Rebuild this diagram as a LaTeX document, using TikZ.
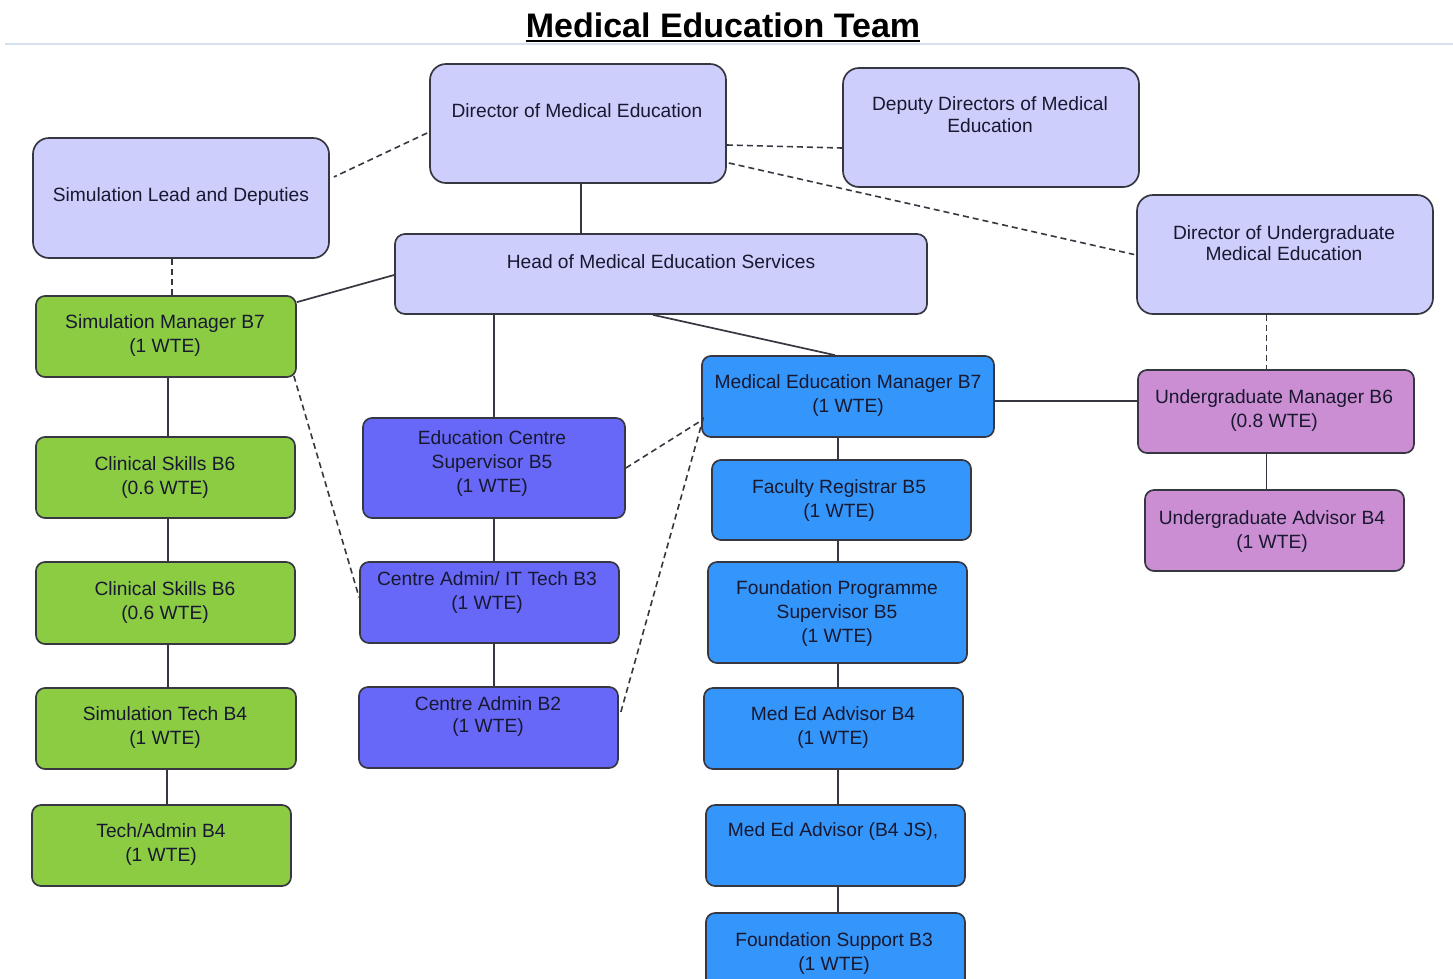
\documentclass[tikz,border=0pt]{standalone}
\usepackage{fontspec}
\setmainfont{Liberation Sans}
\usetikzlibrary{calc}
\definecolor{lav}{RGB}{206,206,252}
\definecolor{grn}{RGB}{140,204,66}
\definecolor{ind}{RGB}{104,104,248}
\definecolor{blu}{RGB}{52,150,250}
\definecolor{pnk}{RGB}{204,142,210}
\definecolor{edge}{RGB}{55,55,65}
\definecolor{txt}{RGB}{24,24,48}
\definecolor{rule}{RGB}{214,224,234}
\begin{document}
\begin{tikzpicture}[x=1pt,y=-1pt,
  bigbox/.style={draw=edge,line width=1.7pt,rounded corners=16pt,inner sep=0pt,fill=lav},
  smallbox/.style={draw=edge,line width=1.7pt,rounded corners=9pt,inner sep=0pt},
  lbl/.style={text=txt,font=\fontsize{19.2}{24}\selectfont,align=center,inner sep=0pt},
  solidc/.style={draw=edge,line width=1.7pt},
  dashc/.style={draw=edge,line width=1.6pt,dash pattern=on 6pt off 4pt}]
\useasboundingbox (0,0) rectangle (1453,978);
\fill[white] (0,0) rectangle (1453,978);
% title
\node[font=\fontsize{34}{40}\selectfont\bfseries,inner sep=0pt,anchor=base] (title) at (723,37) {Medical Education Team};
\draw[line width=2pt] ($(title.base west)+(0,4)$) -- ($(title.base east)+(0,4)$);
\draw[rule,line width=1.2pt] (5,44) -- (1453,44);
% boxes
\node[bigbox,minimum width=296pt,minimum height=119pt] (dir) at (578,123.5) {};
\node[lbl] (tdir) at (577,111) {Director of Medical Education};
\node[bigbox,minimum width=296pt,minimum height=119pt] (dep) at (991,127.5) {};
\node[lbl,font=\fontsize{19.2}{21.5}\selectfont] (tdep) at (990,114.5) {Deputy Directors of Medical\\Education};
\node[bigbox,minimum width=296pt,minimum height=120pt] (simlead) at (181,198) {};
\node[lbl] (tsimlead) at (181,197) {Simulation Lead and Deputies};
\node[bigbox,rounded corners=10pt,minimum width=532pt,minimum height=80pt] (head) at (661,274) {};
\node[lbl] (thead) at (661,262) {Head of Medical Education Services};
\node[bigbox,minimum width=296pt,minimum height=119pt] (dirug) at (1285,254.5) {};
\node[lbl,font=\fontsize{19.2}{20.5}\selectfont] (tdirug) at (1284,243) {Director of Undergraduate\\Medical Education};
% green
\node[smallbox,fill=grn,minimum width=260pt,minimum height=81pt] (simmgr) at (166,336.5) {};
\node[lbl] (tsimmgr) at (165,336) {Simulation Manager B7\\(1 WTE)};
\node[smallbox,fill=grn,minimum width=259pt,minimum height=81pt] (cs1) at (165.5,477.5) {};
\node[lbl] (tcs1) at (165,477.5) {Clinical Skills B6\\(0.6 WTE)};
\node[smallbox,fill=grn,minimum width=259pt,minimum height=82pt] (cs2) at (165.5,603) {};
\node[lbl] (tcs2) at (165,602.5) {Clinical Skills B6\\(0.6 WTE)};
\node[smallbox,fill=grn,minimum width=260pt,minimum height=81pt] (simtech) at (166,728.5) {};
\node[lbl] (tsimtech) at (165,728) {Simulation Tech B4\\(1 WTE)};
\node[smallbox,fill=grn,minimum width=259pt,minimum height=81pt] (techadm) at (161.5,845.5) {};
\node[lbl] (ttechadm) at (161,844.5) {Tech/Admin B4\\(1 WTE)};
% indigo
\node[smallbox,fill=ind,minimum width=262pt,minimum height=100pt] (ecs) at (494,468) {};
\node[lbl] (tecs) at (492,463.5) {Education Centre\\Supervisor B5\\(1 WTE)};
\node[smallbox,fill=ind,minimum width=259pt,minimum height=81pt] (cait) at (489.5,602.5) {};
\node[lbl] (tcait) at (487,592.5) {Centre Admin/ IT Tech B3\\(1 WTE)};
\node[smallbox,fill=ind,minimum width=259pt,minimum height=81pt] (ca2) at (488.5,727.5) {};
\node[lbl,font=\fontsize{19.2}{22}\selectfont] (tca2) at (488,717) {Centre Admin B2\\(1 WTE)};
% blue
\node[smallbox,fill=blu,minimum width=292pt,minimum height=81pt] (mem) at (848,396.5) {};
\node[lbl] (tmem) at (848,395.5) {Medical Education Manager B7\\(1 WTE)};
\node[smallbox,fill=blu,minimum width=259pt,minimum height=80pt] (fr) at (841.5,500) {};
\node[lbl] (tfr) at (839,500.5) {Faculty Registrar B5\\(1 WTE)};
\node[smallbox,fill=blu,minimum width=259pt,minimum height=101pt] (fps) at (837.5,612.5) {};
\node[lbl] (tfps) at (837,613.5) {Foundation Programme\\Supervisor B5\\(1 WTE)};
\node[smallbox,fill=blu,minimum width=259pt,minimum height=81pt] (mea) at (833.5,728.5) {};
\node[lbl] (tmea) at (833,728) {Med Ed Advisor B4\\(1 WTE)};
\node[smallbox,fill=blu,minimum width=259pt,minimum height=81pt] (meajs) at (835.5,845.5) {};
\node[lbl] (tmeajs) at (833,832) {Med Ed Advisor (B4 JS),};
\node[smallbox,fill=blu,minimum width=259pt,minimum height=82pt] (fs) at (835.5,954) {};
\node[lbl] (tfs) at (834,953.5) {Foundation Support B3\\(1 WTE)};
% pink
\node[smallbox,fill=pnk,minimum width=276pt,minimum height=83pt] (ugm) at (1276,411.5) {};
\node[lbl] (tugm) at (1274,410.5) {Undergraduate Manager B6\\(0.8 WTE)};
\node[smallbox,fill=pnk,minimum width=259pt,minimum height=81pt] (uga) at (1274.5,530.5) {};
\node[lbl] (tuga) at (1272,531.5) {Undergraduate Advisor B4\\(1 WTE)};
% spines
\coordinate (sspine) at (168,0);
\coordinate (espine) at (494,0);
\coordinate (mspine) at (838,0);
\coordinate (uspine) at (1266.5,0);
% connectors
\draw[solidc] (dir.south -| 581,0) -- (head.north -| 581,0);
\draw[dashc] ($(dir.west)+(-2,9.5)$) -- ($(simlead.east)+(4,-21)$);
\draw[dashc] ($(dir.east)+(0,21.5)$) -- ($(dep.west)+(0,20.5)$);
\draw[dashc] ($(dir.east)+(2,39.5)$) -- ($(dirug.west)+(-2,0)$);
\draw[dashc] ($(simlead.south)+(-9,0)$) -- ($(simmgr.north)+(6,0)$);
\draw[solidc] ($(head.west)+(0,1)$) -- ($(simmgr.north east)+(0,7)$);
\draw[solidc] (espine |- head.south) -- (espine |- ecs.north);
\draw[solidc] ($(head.south)+(-8,0)$) -- ($(mem.north)+(-13,0)$);
\draw[dashc] ($(simmgr.south east)+(-3,-2)$) -- ($(cait.west)+(0,-5)$);
\draw[solidc] (sspine |- simmgr.south) -- (sspine |- cs1.north);
\draw[solidc] (sspine |- cs1.south) -- (sspine |- cs2.north);
\draw[solidc] (sspine |- cs2.south) -- (sspine |- simtech.north);
\draw[solidc] ($(sspine |- simtech.south)+(-1,0)$) -- ($(sspine |- techadm.north)+(-1,0)$);
\draw[dashc] (ecs.east) -- ($(mem.west)+(1,23.5)$);
\draw[dashc] ($(ca2.east)+(2,-15.5)$) -- ($(mem.west)+(3,18.5)$);
\draw[solidc] (espine |- ecs.south) -- (espine |- cait.north);
\draw[solidc] (espine |- cait.south) -- (espine |- ca2.north);
\draw[solidc] (mspine |- mem.south) -- (mspine |- fr.north);
\draw[solidc] (mspine |- fr.south) -- (mspine |- fps.north);
\draw[solidc] (mspine |- fps.south) -- (mspine |- mea.north);
\draw[solidc] (mspine |- mea.south) -- (mspine |- meajs.north);
\draw[solidc] (mspine |- meajs.south) -- (mspine |- fs.north);
\draw[solidc] ($(mem.east)+(0,4.5)$) -- ($(ugm.west)+(0,-10.5)$);
\draw[dashc] (uspine |- dirug.south) -- (uspine |- ugm.north);
\draw[solidc] (uspine |- ugm.south) -- (uspine |- uga.north);
\end{tikzpicture}
\end{document}
